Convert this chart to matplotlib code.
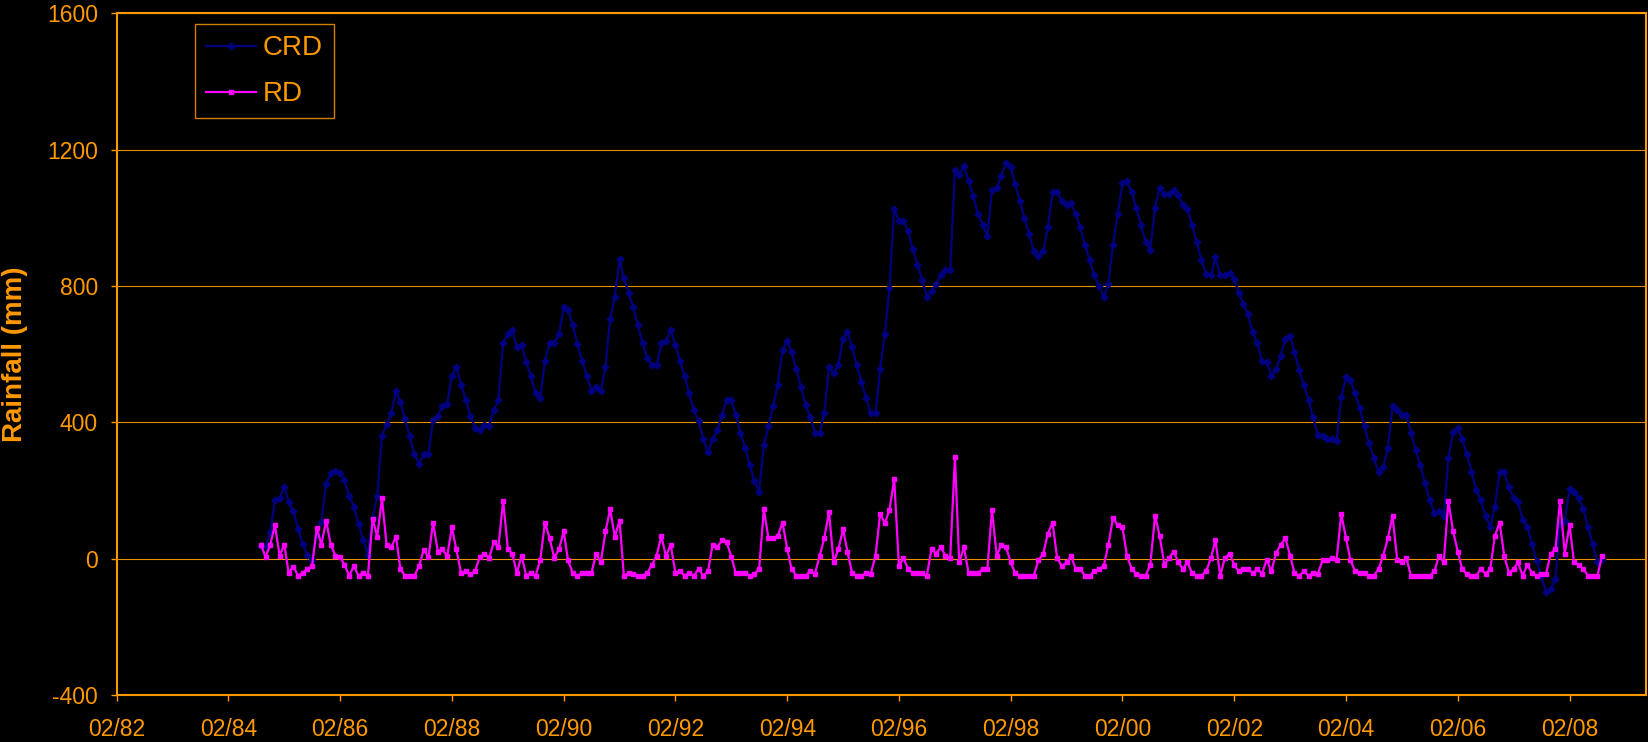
import numpy as np
import pandas as pd
import matplotlib.pyplot as plt
import matplotlib.dates as mdates

plt.rcParams['font.family'] = ['Liberation Sans', 'DejaVu Sans']
plt.rcParams['axes.unicode_minus'] = False

orange = '#FF9900'

# monthly series, Sep 1984 - Sep 2008
months = pd.date_range('1984-09-01', '2008-09-01', freq='MS')

crd = [36, 38, 77, 172, 177, 211, 165, 140, 88, 43, 12, -5,
       70, 109, 218, 250, 257, 250, 230, 184, 153, 101, 55, 12,
       119, 185, 359, 396, 427, 493, 459, 409, 359, 306, 279, 306,
       308, 408, 420, 447, 454, 537, 563, 511, 466, 420, 384, 377,
       391, 389, 435, 466, 634, 659, 671, 620, 628, 576, 537, 485,
       472, 581, 632, 632, 659, 737, 729, 685, 631, 581, 537, 493,
       505, 493, 563, 704, 769, 878, 824, 780, 737, 685, 632, 588,
       569, 569, 632, 639, 671, 627, 581, 537, 485, 435, 404, 350,
       313, 352, 377, 422, 467, 467, 422, 370, 326, 274, 229, 197,
       333, 388, 447, 511, 613, 639, 607, 557, 505, 452, 415, 370,
       370, 428, 563, 544, 568, 646, 665, 620, 569, 518, 472, 427,
       427, 557, 659, 795, 1026, 991, 991, 960, 909, 863, 819, 768,
       785, 807, 831, 846, 846, 1140, 1126, 1153, 1108, 1063, 1011, 980,
       946, 1082, 1087, 1124, 1160, 1148, 1099, 1050, 999, 954, 902, 889,
       902, 972, 1075, 1075, 1050, 1038, 1043, 1011, 972, 921, 877, 832,
       800, 768, 807, 921, 1012, 1101, 1108, 1075, 1030, 980, 929, 907,
       1030, 1089, 1069, 1069, 1082, 1067, 1038, 1026, 978, 929, 876, 836,
       831, 884, 831, 831, 839, 821, 780, 748, 717, 664, 632, 581,
       576, 537, 557, 594, 646, 654, 607, 555, 510, 466, 415, 364,
       359, 352, 352, 345, 474, 532, 524, 486, 442, 388, 338, 294,
       255, 268, 326, 448, 435, 422, 422, 370, 318, 274, 223, 172,
       133, 140, 126, 294, 372, 384, 352, 306, 255, 203, 172, 126,
       94, 153, 255, 255, 209, 179, 167, 114, 94, 43, -8, -52,
       -98, -90, -59, 102, 112, 204, 197, 179, 146, 94, 43, -10,
       -1]

rd = [41, 5, 41, 99, 9, 41, -42, -23, -50, -42, -30, -22,
      91, 41, 112, 41, 9, 5, -18, -50, -22, -50, -42, -50,
      117, 65, 177, 41, 34, 65, -30, -50, -50, -50, -22, 26,
      5, 106, 21, 28, 7, 92, 28, -42, -37, -44, -37, 5,
      15, 2, 48, 34, 170, 28, 15, -42, 9, -50, -42, -50,
      -3, 106, 60, 2, 28, 80, -5, -42, -50, -42, -42, -42,
      15, -11, 80, 145, 65, 112, -50, -42, -44, -50, -50, -42,
      -18, 9, 67, 7, 41, -42, -37, -50, -42, -50, -30, -50,
      -37, 41, 34, 54, 48, 5, -42, -42, -42, -50, -44, -30,
      145, 60, 60, 67, 106, 28, -30, -50, -50, -50, -37, -44,
      9, 60, 138, -11, 28, 87, 21, -42, -50, -50, -42, -44,
      9, 131, 104, 143, 233, -22, 2, -30, -42, -42, -42, -50,
      28, 15, 34, 9, 2, 297, -11, 34, -42, -42, -42, -30,
      -30, 143, 9, 41, 34, -11, -42, -50, -50, -50, -50, -5,
      15, 73, 106, 2, -22, -11, 9, -30, -30, -50, -50, -37,
      -30, -22, 41, 119, 99, 92, 9, -30, -44, -50, -50, -18,
      126, 67, -18, 2, 21, -11, -30, -11, -42, -50, -50, -37,
      2, 54, -50, 2, 15, -18, -37, -30, -30, -42, -30, -44,
      -3, -37, 17, 41, 60, 9, -42, -50, -37, -50, -42, -44,
      -5, -5, 2, -5, 131, 60, -5, -37, -42, -42, -50, -50,
      -30, 9, 60, 126, -5, -11, 2, -50, -50, -50, -50, -50,
      -37, 9, -11, 170, 80, 21, -30, -44, -50, -50, -30, -44,
      -30, 67, 106, 9, -42, -30, -11, -50, -18, -42, -50, -44,
      -44, 15, 28, 170, 15, 99, -11, -18, -30, -50, -50, -50,
      9]

tick_dates = pd.date_range('1982-02-01', '2008-02-01', freq='24MS')

fig = plt.figure(figsize=(16.48, 7.42), dpi=100, facecolor='black')
ax = fig.add_axes([0.0708, 0.0633, 0.928, 0.9187], facecolor='black')

ax.plot(months, crd, color='#000080', linewidth=1.6, marker='D', markersize=3.4,
        label='CRD')
ax.plot(months, rd, color='#FF00FF', linewidth=1.6, marker='s', markersize=2.8,
        label='RD')

ax.set_xlim(pd.Timestamp('1982-02-01'), pd.Timestamp('2009-06-15'))
ax.set_ylim(-400, 1600)
ax.set_yticks(np.arange(-400, 1601, 400))
ax.set_xticks(tick_dates)
ax.xaxis.set_major_formatter(mdates.DateFormatter('%m/%y'))

ax.grid(axis='y', color='#E89000', linewidth=0.8)
ax.set_axisbelow(True)

for s in ax.spines.values():
    s.set_color(orange)
    s.set_linewidth(1.5)

ax.tick_params(axis='both', colors=orange, labelsize=16.5, length=4.5, width=1,
               direction='out')
ax.tick_params(axis='y', pad=9)
ax.tick_params(axis='x', pad=12)

ax.set_ylabel('Rainfall (mm)', color=orange, fontsize=20, fontweight='bold',
              va='center')
ax.yaxis.set_label_coords(-0.0665, 0.5)

leg = ax.legend(loc='upper left', bbox_to_anchor=(0.0512, 0.984), borderaxespad=0,
                fontsize=20, frameon=True, fancybox=False, facecolor='black',
                edgecolor='#D08000', framealpha=1, handlelength=1.8,
                handletextpad=0.25, labelspacing=0.72, borderpad=0.4)
leg.get_frame().set_linewidth(1)
for t in leg.get_texts():
    t.set_color(orange)

fig.savefig('out.png', dpi=100, facecolor='black')
